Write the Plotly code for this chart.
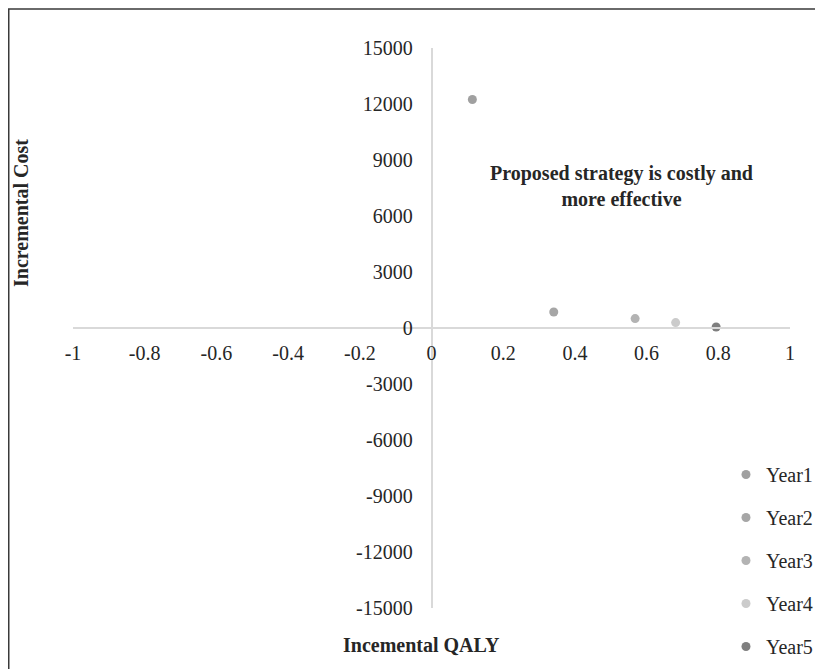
import plotly.graph_objects as go

series_names = ["Year1", "Year2", "Year3", "Year4", "Year5"]
qaly_values = [0.114, 0.341, 0.568, 0.681, 0.794]
cost_values = [12240, 860, 505, 290, 55]
series_colors = ["#a0a0a0", "#a6a6a6", "#b3b3b3", "#cbcbcb", "#7f7f7f"]

x_ticks = [-1, -0.8, -0.6, -0.4, -0.2, 0, 0.2, 0.4, 0.6, 0.8, 1]
x_tick_text = ["-1", "-0.8", "-0.6", "-0.4", "-0.2", "0", "0.2", "0.4", "0.6", "0.8", "1"]
y_ticks = [-15000, -12000, -9000, -6000, -3000, 0, 3000, 6000, 9000, 12000, 15000]
y_tick_text = [str(v) for v in y_ticks]

FONT = "Liberation Serif, Times New Roman, serif"
FS = 20
TXT = "#262626"

fig = go.Figure()
for i, name in enumerate(series_names):
    fig.add_trace(go.Scatter(
        x=[qaly_values[i]], y=[cost_values[i]], mode="markers", name=name,
        legendgroup=name,
        marker=dict(size=9, color=series_colors[i]),
    ))

# page body has an 8px margin; figure is sized so that it fills the window
OFF = 8
W, H = 823 - OFF, 669 - OFF
L = 73 - OFF
T = 48 - OFF
R = W - (790 - OFF)
B = H - (608 - OFF)
pw, ph = W - L - R, H - T - B

def px_to_paper_x(px):
    return (px - OFF - L) / pw

def px_to_paper_y(py):
    return (H - B - (py - OFF)) / ph

fig.update_layout(
    width=W, height=H,
    margin=dict(l=L, r=R, t=T, b=B, autoexpand=False),
    plot_bgcolor="white", paper_bgcolor="white",
    font=dict(family=FONT, size=FS, color=TXT),
    showlegend=True,
    legend=dict(
        x=px_to_paper_x(726), y=px_to_paper_y(455), xanchor="left", yanchor="top",
        font=dict(family=FONT, size=FS, color=TXT),
        tracegroupgap=14, itemwidth=30, bgcolor="rgba(0,0,0,0)",
    ),
    xaxis=dict(
        range=[-1, 1], domain=[0, 1], anchor="free", position=0.5,
        tickmode="array", tickvals=x_ticks, ticktext=x_tick_text,
        showgrid=False, zeroline=False, showline=True, linecolor="#d9d9d9", linewidth=1.5,
        ticks="", ticklabelstandoff=7,
        tickfont=dict(family=FONT, size=FS, color=TXT),
    ),
    yaxis=dict(
        range=[-15000, 15000], domain=[0, 1], anchor="free", position=0.5,
        tickmode="array", tickvals=y_ticks, ticktext=y_tick_text,
        showgrid=False, zeroline=False, showline=True, linecolor="#d9d9d9", linewidth=1.5,
        ticks="", ticklabelstandoff=14,
        tickfont=dict(family=FONT, size=FS, color=TXT),
    ),
    shapes=[dict(
        type="rect", xref="paper", yref="paper",
        x0=px_to_paper_x(8.75), x1=px_to_paper_x(840),
        y0=px_to_paper_y(690), y1=px_to_paper_y(9),
        line=dict(color="#3a3a3a", width=1.5), fillcolor="rgba(0,0,0,0)", layer="below",
    )],
    annotations=[
        dict(text="<b>Proposed strategy is costly and<br>more effective</b>",
             xref="paper", yref="paper", x=px_to_paper_x(621), y=px_to_paper_y(186),
             xanchor="center", yanchor="middle", showarrow=False,
             font=dict(family=FONT, size=FS, color=TXT)),
        dict(text="<b>Incremental Cost</b>", textangle=-90,
             xref="paper", yref="paper", x=px_to_paper_x(21), y=px_to_paper_y(213),
             xanchor="center", yanchor="middle", showarrow=False,
             font=dict(family=FONT, size=FS, color=TXT)),
        dict(text="<b>Incemental QALY</b>",
             xref="paper", yref="paper", x=px_to_paper_x(421), y=px_to_paper_y(645),
             xanchor="center", yanchor="middle", showarrow=False,
             font=dict(family=FONT, size=FS, color=TXT)),
    ],
)

fig.write_html("out.html")
